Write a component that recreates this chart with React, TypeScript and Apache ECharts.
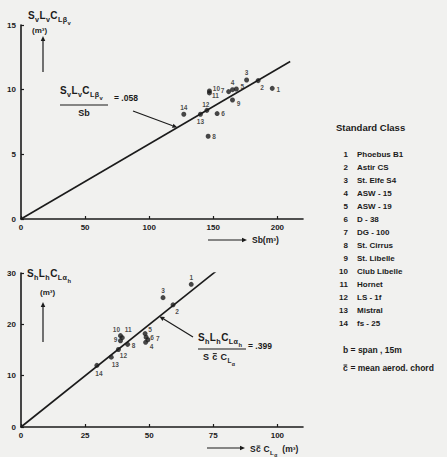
import React, { useEffect, useRef } from "react";
import * as echarts from "echarts";

// ---------- data ----------
const gliderIds = [1, 2, 3, 4, 5, 6, 7, 8, 9, 10, 11, 12, 13, 14];
const gliderNames = [
  "Phoebus B1", "Astir CS", "St. Elfe S4", "ASW - 15", "ASW - 19", "D - 38", "DG - 100",
  "St. Cirrus", "St. Libelle", "Club Libelle", "Hornet", "LS - 1f", "Mistral", "fs - 25",
];

// top plot: Sb (m3)  vs  Sv Lv CLbv (m3)
const topSb = [196, 185, 176, 165, 168, 153, 162, 146, 165, 147, 147, 145, 140, 127];
const topVert = [10.1, 10.7, 10.75, 10.0, 10.05, 8.15, 9.85, 6.4, 9.2, 9.9, 9.75, 8.4, 8.1, 8.1];
const topSlope = 0.058;
const topLineEndX = 210;
const topPointerX = 122;
const topXTicks = [0, 50, 100, 150, 200];
const topYTicks = [0, 5, 10, 15];

// bottom plot: S c CLa (m3)  vs  Sh Lh CLah (m3)
const botSc = [66.4, 59.3, 55.4, 48.6, 48.4, 48.8, 49.5, 41.6, 38.8, 38.8, 39.5, 38.0, 35.2, 29.6];
const botHor = [27.8, 23.8, 25.2, 16.5, 18.2, 17.5, 17.0, 16.1, 16.8, 17.8, 17.4, 15.1, 13.6, 12.0];
const botSlope = 0.399;
const botLineEndX = 78.5;
const botPointerX = 54;
const botXTicks = [0, 25, 50, 75, 100];
const botYTicks = [0, 10, 20, 30];

// label placement (pixel offsets from the dot) – styling only
const topLabelOffsets: [number, number][] = [
  [6, 1], [4, 7], [0, -7], [0, -7], [6, -3], [6, 0], [-6, -1],
  [6, 0], [6, 3], [7, -2], [6, 3], [-1, -6], [0, 7], [0, -7],
];
const botLabelOffsets: [number, number][] = [
  [0, -7], [4, 7], [0, -7], [6, 4], [5, -4], [6, 0], [10, -1],
  [6, 1], [-5, -1], [-4, -6], [6, -8], [5, 6], [4, 7], [2, 8],
];

const FONT = '"Liberation Sans", Arial, sans-serif';
const INK = "#1b1b1b";

let measureCtx: CanvasRenderingContext2D | null = null;
function textW(s: string, size: number) {
  if (!measureCtx) measureCtx = document.createElement("canvas").getContext("2d");
  if (!measureCtx) return s.length * size * 0.55;
  measureCtx.font = `bold ${size}px ${FONT}`;
  return measureCtx.measureText(s).width;
}

// token: text, level (0 normal, 1 sub, 2 sub-sub), overline flag
type Tok = [string, number, boolean?];
function formula(x: number, yBase: number, toks: Tok[], base: number) {
  const els: any[] = [];
  let cx = x;
  for (const [t, lvl, bar] of toks) {
    const size = lvl === 0 ? base : lvl === 1 ? base * 0.72 : base * 0.58;
    const dy = lvl === 0 ? 0 : lvl === 1 ? base * 0.32 : base * 0.6;
    const w = textW(t, size);
    els.push({
      type: "text",
      x: cx,
      y: yBase + dy,
      silent: true,
      style: { text: t, fontSize: size, fontWeight: "bold", fontFamily: FONT, fill: INK, align: "left", verticalAlign: "bottom" },
    });
    if (bar) {
      const by = yBase + dy - size * 0.82;
      els.push({
        type: "line",
        silent: true,
        shape: { x1: cx + 0.5, y1: by, x2: cx + w - 0.5, y2: by },
        style: { stroke: INK, lineWidth: 1 },
      });
    }
    cx += w + 0.4;
  }
  return els;
}

function txt(x: number, y: number, s: string, size: number, align = "left") {
  return {
    type: "text",
    x,
    y,
    silent: true,
    style: { text: s, fontSize: size, fontWeight: "bold", fontFamily: FONT, fill: INK, align, verticalAlign: "middle" },
  };
}

function arrow(x1: number, y1: number, x2: number, y2: number, w = 1.2, head = 5) {
  const dx = x2 - x1, dy = y2 - y1;
  const len = Math.sqrt(dx * dx + dy * dy);
  const ux = dx / len, uy = dy / len;
  const bx = x2 - ux * head, by = y2 - uy * head;
  const px = -uy * head * 0.45, py = ux * head * 0.45;
  return [
    { type: "line", silent: true, shape: { x1, y1, x2: bx, y2: by }, style: { stroke: INK, lineWidth: w } },
    {
      type: "polygon",
      silent: true,
      shape: { points: [[x2, y2], [bx + px, by + py], [bx - px, by - py]] },
      style: { fill: INK },
    },
  ];
}

function axisCommon(ticks: number[], min: number, max: number, interval: number, isY: boolean) {
  return {
    type: "value",
    min,
    max,
    interval,
    axisLine: { show: true, lineStyle: { color: INK, width: 1.6 } },
    axisTick: { show: true, inside: true, length: 3, customValues: ticks, lineStyle: { color: INK, width: 1.2 } },
    axisLabel: {
      customValues: ticks,
      showMaxLabel: true,
      fontSize: 8,
      fontWeight: "bold",
      fontFamily: FONT,
      color: INK,
      margin: isY ? 5 : 4,
    },
    splitLine: { show: false },
  };
}

export default function App() {
  const ref = useRef<HTMLDivElement>(null);

  useEffect(() => {
    document.body.style.margin = "0";
    if (!ref.current) return;
    const chart = echarts.init(ref.current, undefined, { renderer: "svg" });

    const topPoints = gliderIds.map((id, i) => ({
      value: [topSb[i], topVert[i]],
      name: String(id),
      label: { offset: topLabelOffsets[i] },
    }));
    const botPoints = gliderIds.map((id, i) => ({
      value: [botSc[i], botHor[i]],
      name: String(id),
      label: { offset: botLabelOffsets[i] },
    }));

    const pointLabel = {
      show: true,
      position: "inside",
      formatter: (p: any) => p.name,
      fontSize: 6.5,
      fontWeight: "bold",
      fontFamily: FONT,
      color: INK,
    };

    chart.setOption({
      animation: false,
      backgroundColor: "#f1f1ef",
      grid: [
        { left: 21, top: 25, width: 282, height: 194 },
        { left: 21, top: 273, width: 282, height: 154 },
      ],
      xAxis: [
        { gridIndex: 0, ...axisCommon(topXTicks, 0, 220, 50, false) },
        { gridIndex: 1, ...axisCommon(botXTicks, 0, 110, 25, false) },
      ],
      yAxis: [
        { gridIndex: 0, ...axisCommon(topYTicks, 0, 15, 5, true) },
        { gridIndex: 1, ...axisCommon(botYTicks, 0, 30, 10, true) },
      ],
      series: [
        {
          type: "line",
          xAxisIndex: 0,
          yAxisIndex: 0,
          data: [[0, 0], [topLineEndX, topSlope * topLineEndX]],
          symbol: "none",
          lineStyle: { color: INK, width: 1.6 },
          silent: true,
          z: 2,
        },
        {
          type: "scatter",
          xAxisIndex: 0,
          yAxisIndex: 0,
          data: topPoints,
          symbolSize: 5,
          itemStyle: { color: INK },
          label: pointLabel,
          z: 3,
        },
        {
          type: "line",
          xAxisIndex: 1,
          yAxisIndex: 1,
          data: [[0, 0], [botLineEndX, botSlope * botLineEndX]],
          symbol: "none",
          lineStyle: { color: INK, width: 1.6 },
          silent: true,
          z: 2,
        },
        {
          type: "scatter",
          xAxisIndex: 1,
          yAxisIndex: 1,
          data: botPoints,
          symbolSize: 5,
          itemStyle: { color: INK },
          label: pointLabel,
          z: 3,
        },
      ],
    });

    const tp = chart.convertToPixel({ gridIndex: 0 }, [topPointerX, topSlope * topPointerX]) as number[];
    const bp = chart.convertToPixel({ gridIndex: 1 }, [botPointerX, botSlope * botPointerX]) as number[];

    const g: any[] = [];
    // ---- top plot annotations ----
    g.push(...formula(28, 20, [["S", 0], ["v", 1], ["L", 0], ["v", 1], ["C", 0], ["L", 1], ["β", 1], ["v", 2]], 10));
    g.push(txt(32, 30, "(m³)", 8));
    g.push(...arrow(43, 72, 43, 36));
    g.push(...formula(60, 95, [["S", 0], ["v", 1], ["L", 0], ["v", 1], ["C", 0], ["L", 1], ["β", 1], ["v", 2]], 10));
    g.push({ type: "line", silent: true, shape: { x1: 60, y1: 105, x2: 108, y2: 105 }, style: { stroke: INK, lineWidth: 1.2 } });
    g.push(txt(84, 113, "Sb", 9, "center"));
    g.push(txt(114, 98, "= .058", 8.5));
    g.push(...arrow(133, 111, tp[0], tp[1]));
    g.push(...arrow(208, 240, 247, 240));
    g.push(txt(252, 240, "Sb(m³)", 8.5));

    // ---- bottom plot annotations ----
    g.push(...formula(27, 278, [["S", 0], ["h", 1], ["L", 0], ["h", 1], ["C", 0], ["L", 1], ["α", 1], ["h", 2]], 10));
    g.push(txt(40, 292, "(m³)", 8));
    g.push(...arrow(43, 342, 43, 302));
    g.push(...formula(198, 342, [["S", 0], ["h", 1], ["L", 0], ["h", 1], ["C", 0], ["L", 1], ["α", 1], ["h", 2]], 10));
    g.push({ type: "line", silent: true, shape: { x1: 198, y1: 349, x2: 246, y2: 349 }, style: { stroke: INK, lineWidth: 1.2 } });
    g.push(...formula(203, 361, [["S", 0], [" ", 0], ["c", 0, true], [" ", 0], ["C", 0], ["L", 1], ["α", 2]], 9));
    g.push(txt(248, 346, "= .399", 8.5));
    g.push(...arrow(193, 337, bp[0], bp[1]));
    g.push(...arrow(207, 448, 245, 448));
    g.push(...formula(250, 453, [["S", 0], ["c", 0, true], [" C", 0], ["L", 1], ["α", 2], ["  (m³)", 0]], 8.5));

    // ---- legend ----
    g.push(txt(336, 127, "Standard Class", 9.5));
    gliderNames.forEach((n, i) => {
      const y = 154 + i * 13;
      g.push(txt(348, y, String(gliderIds[i]), 8, "right"));
      g.push(txt(357, y, n, 8));
    });
    g.push(txt(343, 350, "b = span , 15m", 8.5));
    g.push(...formula(343, 372, [["c", 0, true], [" = mean aerod. chord", 0]], 8.5));

    chart.setOption({ graphic: { elements: g } });

    return () => chart.dispose();
  }, []);

  return <div ref={ref} style={{ width: 447, height: 457 }} />;
}
